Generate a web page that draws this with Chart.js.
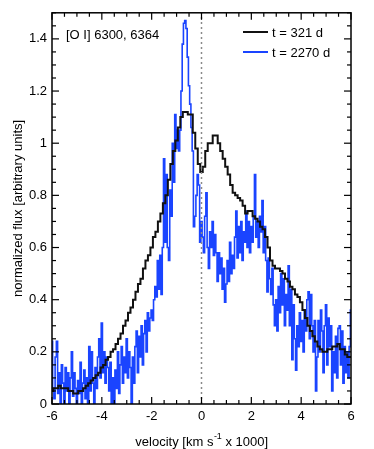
<!DOCTYPE html>
<html><head><meta charset="utf-8">
<script src="https://cdn.jsdelivr.net/npm/chart.js@4.4.1/dist/chart.umd.min.js"></script>
<style>html,body{margin:0;padding:0;background:#fff}canvas{display:block}</style>
</head><body>
<canvas id="c" width="374" height="449"></canvas>
<script>
// velocity grid for t = 321 d [km/s x 1000]
const velocity = [-6.0,-5.9,-5.8,-5.7,-5.6,-5.5,-5.4,-5.3,-5.2,-5.1,-5.0,-4.9,-4.8,-4.7,-4.6,-4.5,-4.4,-4.3,-4.2,-4.1,
-4.0,-3.9,-3.8,-3.7,-3.6,-3.5,-3.4,-3.3,-3.2,-3.1,-3.0,-2.9,-2.8,-2.7,-2.6,-2.5,-2.4,-2.3,-2.2,-2.1,
-2.0,-1.9,-1.8,-1.7,-1.6,-1.5,-1.4,-1.3,-1.2,-1.1,-1.0,-0.9,-0.8,-0.7,-0.6,-0.5,-0.4,-0.3,-0.2,-0.1,
0.0,0.1,0.2,0.3,0.4,0.5,0.6,0.7,0.8,0.9,1.0,1.1,1.2,1.3,1.4,1.5,1.6,1.7,1.8,1.9,
2.0,2.1,2.2,2.3,2.4,2.5,2.6,2.7,2.8,2.9,3.0,3.1,3.2,3.3,3.4,3.5,3.6,3.7,3.8,3.9,
4.0,4.1,4.2,4.3,4.4,4.5,4.6,4.7,4.8,4.9,5.0,5.1,5.2,5.3,5.4,5.5,5.6,5.7,5.8,5.9,6.0];

// t = 321 d
const flux321 = [0.05,0.06,0.06,0.07,0.06,0.06,0.06,0.05,0.05,0.04,0.04,0.05,0.05,0.06,0.07,0.08,0.09,0.10,0.11,0.12,
0.14,0.15,0.17,0.18,0.20,0.21,0.23,0.25,0.27,0.30,0.32,0.35,0.37,0.40,0.43,0.46,0.48,0.52,0.55,0.57,
0.60,0.64,0.66,0.70,0.73,0.77,0.80,0.86,0.92,0.97,1.01,1.06,1.10,1.12,1.12,1.11,1.11,1.04,0.98,0.92,
0.89,0.91,0.97,1.00,1.00,1.03,1.03,1.00,0.97,0.94,0.91,0.88,0.84,0.81,0.80,0.79,0.78,0.76,0.73,0.74,
0.74,0.72,0.71,0.70,0.68,0.67,0.64,0.60,0.55,0.53,0.52,0.52,0.51,0.50,0.48,0.47,0.45,0.44,0.42,0.41,
0.39,0.36,0.33,0.30,0.28,0.26,0.24,0.22,0.21,0.20,0.20,0.21,0.21,0.22,0.22,0.23,0.21,0.21,0.19,0.18,0.18];

// velocity grid for t = 2270 d [km/s x 1000]
const velocityFine = [
-6.00,-5.95,-5.90,-5.85,-5.80,-5.75,-5.70,-5.65,-5.60,-5.55,-5.50,-5.45,-5.40,-5.35,-5.30,-5.25,-5.20,-5.15,-5.10,-5.05,
-5.00,-4.95,-4.90,-4.85,-4.80,-4.75,-4.70,-4.65,-4.60,-4.55,-4.50,-4.45,-4.40,-4.35,-4.30,-4.25,-4.20,-4.15,-4.10,-4.05,
-4.00,-3.95,-3.90,-3.85,-3.80,-3.75,-3.70,-3.65,-3.60,-3.55,-3.50,-3.45,-3.40,-3.35,-3.30,-3.25,-3.20,-3.15,-3.10,-3.05,
-3.00,-2.95,-2.90,-2.85,-2.80,-2.75,-2.70,-2.65,-2.60,-2.55,-2.50,-2.45,-2.40,-2.35,-2.30,-2.25,-2.20,-2.15,-2.10,-2.05,
-2.00,-1.95,-1.90,-1.85,-1.80,-1.75,-1.70,-1.65,-1.60,-1.55,-1.50,-1.45,-1.40,-1.35,-1.30,-1.25,-1.20,-1.15,-1.10,-1.05,
-1.00,-0.95,-0.90,-0.85,-0.80,-0.75,-0.70,-0.65,-0.60,-0.55,-0.50,-0.45,-0.40,-0.35,-0.30,-0.25,-0.20,-0.15,-0.10,-0.05,
0.00,0.05,0.10,0.15,0.20,0.25,0.30,0.35,0.40,0.45,0.50,0.55,0.60,0.65,0.70,0.75,0.80,0.85,0.90,0.95,
1.00,1.05,1.10,1.15,1.20,1.25,1.30,1.35,1.40,1.45,1.50,1.55,1.60,1.65,1.70,1.75,1.80,1.85,1.90,1.95,
2.00,2.05,2.10,2.15,2.20,2.25,2.30,2.35,2.40,2.45,2.50,2.55,2.60,2.65,2.70,2.75,2.80,2.85,2.90,2.95,
3.00,3.05,3.10,3.15,3.20,3.25,3.30,3.35,3.40,3.45,3.50,3.55,3.60,3.65,3.70,3.75,3.80,3.85,3.90,3.95,
4.00,4.05,4.10,4.15,4.20,4.25,4.30,4.35,4.40,4.45,4.50,4.55,4.60,4.65,4.70,4.75,4.80,4.85,4.90,4.95,
5.00,5.05,5.10,5.15,5.20,5.25,5.30,5.35,5.40,5.45,5.50,5.55,5.60,5.65,5.70,5.75,5.80,5.85,5.90,5.95,
6.00];

// t = 2270 d
const flux2270 = [
0.24,0.06,0.02,0.18,0.24,0.04,0.12,0.00,0.15,0.08,0.00,0.14,0.05,0.12,0.00,0.10,0.20,0.03,0.12,0.06,
0.00,0.09,0.04,0.16,0.00,0.08,0.13,0.02,0.10,0.00,0.22,0.05,0.20,0.08,0.00,0.14,0.06,0.18,0.25,0.10,
0.31,0.12,0.20,0.08,0.18,0.14,0.05,0.16,0.00,0.10,0.00,0.13,0.06,0.20,0.04,0.15,0.22,0.08,0.18,0.12,
0.25,0.10,0.20,0.14,0.00,0.18,0.08,0.22,0.28,0.12,0.26,0.18,0.30,0.15,0.27,0.32,0.20,0.35,0.28,0.33,
0.36,0.32,0.40,0.45,0.41,0.55,0.44,0.57,0.42,0.60,0.94,0.62,0.88,0.60,0.55,0.82,0.72,1.00,0.85,1.11,
0.98,1.05,0.97,1.05,1.20,1.38,1.46,1.47,1.44,1.33,1.22,1.15,1.06,0.97,0.68,0.72,0.80,0.88,0.84,0.62,
0.70,0.64,0.58,0.72,0.81,0.60,0.52,0.66,0.60,0.70,0.57,0.65,0.58,0.47,0.58,0.50,0.56,0.44,0.52,0.39,
0.46,0.55,0.47,0.62,0.50,0.57,0.52,0.64,0.74,0.56,0.68,0.58,0.70,0.55,0.66,0.62,0.74,0.60,0.70,0.58,
0.68,0.62,0.72,0.88,0.64,0.70,0.60,0.72,0.66,0.78,0.58,0.68,0.55,0.43,0.56,0.48,0.42,0.52,0.38,0.30,
0.40,0.28,0.45,0.35,0.50,0.38,0.48,0.30,0.42,0.36,0.53,0.30,0.44,0.17,0.38,0.25,0.13,0.30,0.22,0.35,
0.24,0.32,0.20,0.36,0.28,0.40,0.43,0.25,0.42,0.30,0.20,0.32,0.05,0.18,0.32,0.20,0.36,0.28,0.12,0.30,
0.38,0.15,0.33,0.22,0.30,0.05,0.20,0.12,0.26,0.10,0.29,0.30,0.15,0.28,0.08,0.22,0.12,0.20,0.10,0.22,
0.36];

const seriesLabels = ['t = 321 d', 't = 2270 d'];
const seriesColors = ['#111111', '#1a44ff'];
const xTicks = [-6,-4,-2,0,2,4,6];
const yTicks = [0,0.2,0.4,0.6,0.8,1,1.2,1.4];
const zeroLine = [{x:0,y:0},{x:0,y:1.5}];

const FONT = '"Liberation Sans", Arial, Helvetica, sans-serif';

function seg(ctx,x1,y1,x2,y2){ctx.beginPath();ctx.moveTo(x1,y1);ctx.lineTo(x2,y2);ctx.stroke();}

const decor = {
  id:'decor',
  afterDraw(chart){
    const {ctx, chartArea:a, scales:{x,y}} = chart;
    ctx.save();
    ctx.strokeStyle='#000'; ctx.lineWidth=1.5; ctx.lineCap='butt';
    ctx.strokeRect(a.left,a.top,a.right-a.left,a.bottom-a.top);
    ctx.lineWidth=1.2;
    for(let i=0;i<=24;i++){
      const v=-6+i*0.5;
      const px=x.getPixelForValue(v);
      const L = (i%4===0)?7:4;
      seg(ctx,px,a.bottom,px,a.bottom-L);
      seg(ctx,px,a.top,px,a.top+L);
    }
    for(let i=0;i<=30;i++){
      const v=i*0.05; const py=y.getPixelForValue(v);
      const L=(i%4===0)?7:4;
      seg(ctx,a.left,py,a.left+L,py);
      seg(ctx,a.right,py,a.right-L,py);
    }
    // annotation
    ctx.fillStyle='#000';
    ctx.font='13px '+FONT;
    ctx.textBaseline='middle'; ctx.textAlign='left';
    ctx.fillText('[O I] 6300, 6364', 66, 35);
    // legend
    const ly=[32,52];
    for(let i=0;i<2;i++){
      ctx.strokeStyle=seriesColors[i]; ctx.lineWidth=2;
      seg(ctx,243,ly[i],268,ly[i]);
      ctx.fillStyle='#000';
      ctx.fillText(seriesLabels[i], 272, ly[i]+1);
    }
    // x title with superscript
    const cx=(a.left+a.right)/2, ty=442;
    const p1='velocity [km s', sup='-1', p2=' x 1000]';
    ctx.font='13px '+FONT; const w1=ctx.measureText(p1).width, w3=ctx.measureText(p2).width;
    ctx.font='9px '+FONT; const w2=ctx.measureText(sup).width;
    let sx=cx-(w1+w2+w3)/2;
    ctx.textBaseline='middle';
    ctx.font='13px '+FONT; ctx.fillText(p1,sx,ty); sx+=w1;
    ctx.font='9px '+FONT; ctx.fillText(sup,sx+0.5,ty-5); sx+=w2+0.5;
    ctx.font='13px '+FONT; ctx.fillText(p2,sx,ty);
    // y title
    ctx.save();
    ctx.translate(18,(a.top+a.bottom)/2);
    ctx.rotate(-Math.PI/2);
    ctx.textAlign='center';
    ctx.fillText('normalized flux [arbitrary units]',0,0);
    ctx.restore();
    ctx.restore();
  }
};

new Chart(document.getElementById('c'),{
  type:'line',
  data:{
    datasets:[
      {label:'zero', data:zeroLine, borderColor:'#8a8a8a', borderWidth:1.5, borderDash:[2,3], pointRadius:0, fill:false},
      {label:seriesLabels[0], data:velocity.map((v,i)=>({x:v,y:flux321[i]})), borderColor:seriesColors[0], borderWidth:2, stepped:'middle', pointRadius:0, fill:false},
      {label:seriesLabels[1], data:velocityFine.map((v,i)=>({x:v,y:flux2270[i]})), borderColor:seriesColors[1], borderWidth:1.6, stepped:'middle', pointRadius:0, fill:false}
    ]
  },
  options:{
    responsive:false, animation:false, devicePixelRatio:1,
    layout:{padding:{top:7,right:23,bottom:0,left:0}},
    plugins:{legend:{display:false}, tooltip:{enabled:false}},
    scales:{
      x:{type:'linear', min:-6, max:6,
        afterFit(s){s.height=45;},
        afterBuildTicks(s){s.ticks=xTicks.map(v=>({value:v}));},
        grid:{display:false, drawTicks:false}, border:{display:false},
        ticks:{padding:5, color:'#000', font:{family:FONT, size:13}, maxRotation:0, autoSkip:false,
          callback:(v)=>String(Math.round(v*100)/100)}
      },
      y:{type:'linear', min:0, max:1.5,
        afterFit(s){s.width=52;},
        afterBuildTicks(s){s.ticks=yTicks.map(v=>({value:v}));},
        grid:{display:false, drawTicks:false}, border:{display:false},
        ticks:{padding:5, color:'#000', font:{family:FONT, size:13}, autoSkip:false,
          callback:(v)=>String(Math.round(v*100)/100)}
      }
    }
  },
  plugins:[decor]
});
</script>
</body></html>
